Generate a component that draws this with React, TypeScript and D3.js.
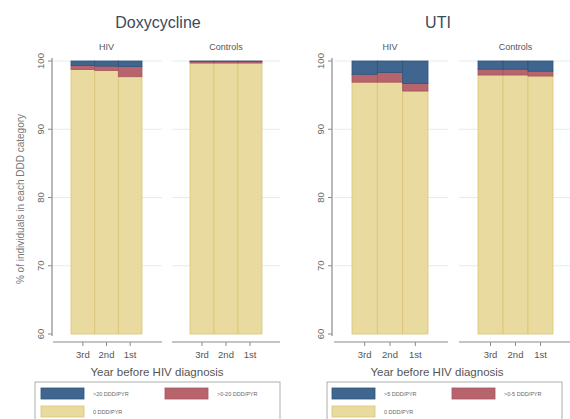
import React, { useEffect, useRef } from 'react';
import * as d3 from 'd3';

const years = ['3rd', '2nd', '1st'];
const groups = ['HIV', 'Controls'];
const yTicks = [60, 70, 80, 90, 100];

// Doxycycline, % in each DDD category
const doxyHivNone = [98.75, 98.6, 97.7];
const doxyHivLow = [0.6, 0.65, 1.5];
const doxyHivHigh = [0.65, 0.75, 0.8];
const doxyCtrlNone = [99.7, 99.7, 99.7];
const doxyCtrlLow = [0.25, 0.25, 0.25];
const doxyCtrlHigh = [0.05, 0.05, 0.05];

// UTI antibiotics
const utiHivNone = [96.9, 96.9, 95.6];
const utiHivLow = [1.15, 1.4, 1.1];
const utiHivHigh = [1.95, 1.7, 3.3];
const utiCtrlNone = [97.95, 97.95, 97.8];
const utiCtrlLow = [0.85, 0.85, 0.7];
const utiCtrlHigh = [1.2, 1.2, 1.5];

const doxyLegend = ['>20 DDD/PYR', '>0-20 DDD/PYR', '0 DDD/PYR'];
const utiLegend = ['>5 DDD/PYR', '>0-5 DDD/PYR', '0 DDD/PYR'];

const colours = { high: '#40668f', low: '#b8646d', none: '#e9da9f' };
const strokes = { high: '#2f5479', low: '#a65560', none: '#d9c577' };

const panels = [
  {
    title: 'Doxycycline', ox: 0, axisX: 52, yTitle: '% of individuals in each DDD category',
    bars: [[71, 142], [190, 262]], base: [[53, 162], [172, 280]],
    data: [
      { none: doxyHivNone, low: doxyHivLow, high: doxyHivHigh },
      { none: doxyCtrlNone, low: doxyCtrlLow, high: doxyCtrlHigh },
    ],
    legend: doxyLegend, box: [35, 280], sw: [41, 165],
  },
  {
    title: 'UTI', ox: 280, axisX: 332, yTitle: '',
    bars: [[352, 428], [478, 553]], base: [[334, 448], [459, 572]],
    data: [
      { none: utiHivNone, low: utiHivLow, high: utiHivHigh },
      { none: utiCtrlNone, low: utiCtrlLow, high: utiCtrlHigh },
    ],
    legend: utiLegend, box: [327, 562], sw: [332, 452],
  },
];

const font = '"Liberation Sans", Arial, sans-serif';

function App() {
  const svgRef = useRef(null);

  useEffect(() => {
    const svg = d3.select(svgRef.current);
    svg.selectAll('*').remove();
    svg.append('rect').attr('width', 570).attr('height', 419).attr('fill', '#fff');

    const y = d3.scaleLinear().domain([60, 100]).range([334, 61]);

    panels.forEach((p) => {
      const g = svg.append('g');

      g.append('text').attr('x', p.ox + 158).attr('y', 28).attr('text-anchor', 'middle')
        .attr('font-size', 16).attr('fill', '#3c4a5a').attr('font-family', font).text(p.title);

      // y axis
      g.append('line').attr('x1', p.axisX).attr('x2', p.axisX).attr('y1', y(100) - 3).attr('y2', y(60) + 2)
        .attr('stroke', '#8a8a8a').attr('stroke-width', 1.2);
      yTicks.forEach((t) => {
        g.append('line').attr('x1', p.axisX - 4).attr('x2', p.axisX).attr('y1', y(t)).attr('y2', y(t))
          .attr('stroke', '#8a8a8a');
        g.append('text').attr('transform', `translate(${p.axisX - 8},${y(t)}) rotate(-90)`)
          .attr('text-anchor', 'middle').attr('font-size', 9.5).attr('fill', '#666').attr('font-family', font)
          .text(t);
      });
      g.append('text').attr('transform', `translate(${p.ox + 24},199) rotate(-90)`)
        .attr('text-anchor', 'middle').attr('font-size', 10).attr('fill', '#777').attr('font-family', font)
        .text(p.yTitle);

      groups.forEach((grp, gi) => {
        const x = d3.scaleBand().domain(years).range(p.bars[gi]).padding(0);
        const [b0, b1] = p.base[gi];

        // faint grid
        yTicks.filter((t) => t > 60).forEach((t) => {
          g.append('line').attr('x1', b0).attr('x2', b1).attr('y1', y(t)).attr('y2', y(t))
            .attr('stroke', '#e2eeee').attr('stroke-width', 1);
        });

        g.append('text').attr('x', (p.bars[gi][0] + p.bars[gi][1]) / 2).attr('y', 50)
          .attr('text-anchor', 'middle').attr('font-size', 9).attr('fill', '#555').attr('font-family', font)
          .text(grp);

        const d = p.data[gi];
        const rows = years.map((yr, i) => ({ yr, none: d.none[i], low: d.low[i], high: d.high[i] }));
        const stacked = d3.stack().keys(['none', 'low', 'high'])(rows as any);
        stacked.forEach((layer: any) => {
          g.selectAll(null).data(layer).enter().append('rect')
            .attr('x', (s: any) => x(s.data.yr))
            .attr('width', x.bandwidth())
            .attr('y', (s: any) => y(s[1]))
            .attr('height', (s: any) => Math.max(0, y(Math.max(60, s[0])) - y(s[1])))
            .attr('fill', colours[layer.key])
            .attr('stroke', strokes[layer.key]).attr('stroke-width', 0.8);
        });

        // x axis
        g.append('line').attr('x1', b0).attr('x2', b1).attr('y1', 342).attr('y2', 342)
          .attr('stroke', '#8a8a8a').attr('stroke-width', 1.2);
        years.forEach((yr) => {
          const cx = x(yr) + x.bandwidth() / 2;
          g.append('line').attr('x1', cx).attr('x2', cx).attr('y1', 342).attr('y2', 346).attr('stroke', '#8a8a8a');
          g.append('text').attr('x', cx).attr('y', 358).attr('text-anchor', 'middle')
            .attr('font-size', 9.5).attr('fill', '#555').attr('font-family', font).text(yr);
        });
      });

      g.append('text').attr('x', p.ox + 157).attr('y', 376).attr('text-anchor', 'middle')
        .attr('font-size', 11.5).attr('fill', '#555').attr('font-family', font).text('Year before HIV diagnosis');

      // legend
      g.append('rect').attr('x', p.box[0]).attr('y', 382).attr('width', p.box[1] - p.box[0]).attr('height', 50)
        .attr('fill', '#fff').attr('stroke', '#999').attr('stroke-width', 0.8);
      const items = [
        { key: 'high', x: p.sw[0], y: 388 },
        { key: 'low', x: p.sw[1], y: 388 },
        { key: 'none', x: p.sw[0], y: 406 },
      ];
      items.forEach((it, i) => {
        g.append('rect').attr('x', it.x).attr('y', it.y).attr('width', 43).attr('height', 11)
          .attr('fill', colours[it.key]).attr('stroke', strokes[it.key]).attr('stroke-width', 0.8);
        g.append('text').attr('x', it.x + 52).attr('y', it.y + 7.5).attr('font-size', 5.5)
          .attr('fill', '#666').attr('font-family', font).text(p.legend[i]);
      });
    });
  }, []);

  return <svg ref={svgRef} width={570} height={419} style={{ position: 'absolute', left: 0, top: 0 }} />;
}

export default App;
